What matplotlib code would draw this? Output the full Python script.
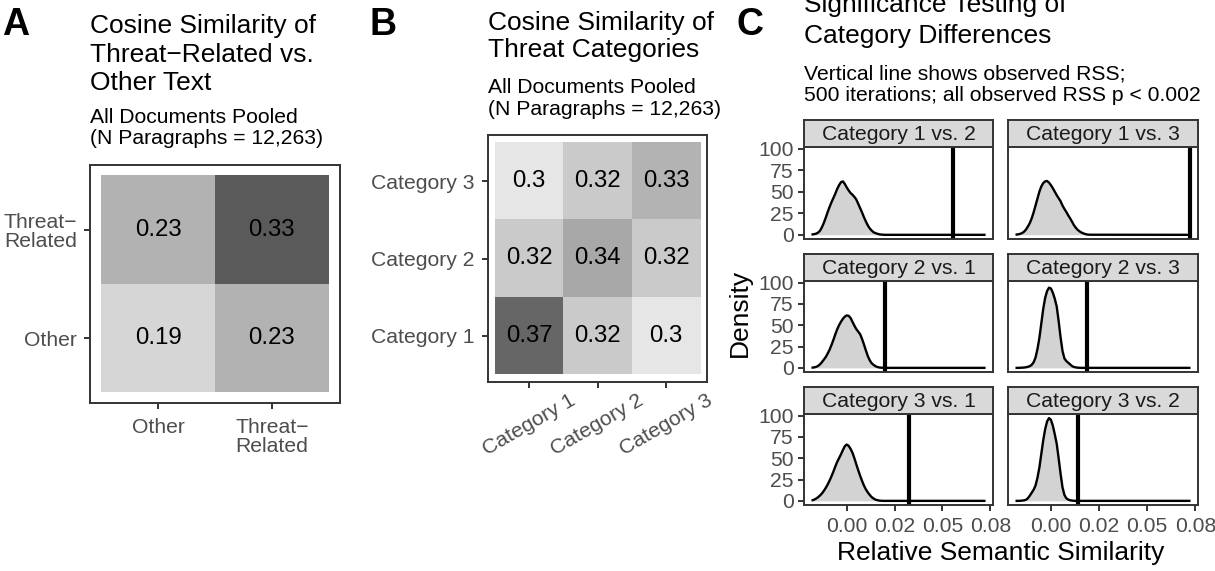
import numpy as np
import matplotlib.pyplot as plt
from matplotlib.colors import LinearSegmentedColormap, Normalize

plt.rcParams['font.family'] = ['Liberation Sans', 'DejaVu Sans']

# ---- data ----
# panel A: threat-related vs other text
a_labels = ["Other", "Threat\u2212\nRelated"]
a_values = [[0.19, 0.23],   # row Other
            [0.23, 0.33]]   # row Threat-Related

# panel B: threat categories
b_labels = ["Category 1", "Category 2", "Category 3"]
b_values = [[0.37, 0.32, 0.30],   # row Category 1
            [0.32, 0.34, 0.32],   # row Category 2
            [0.30, 0.32, 0.33]]   # row Category 3

# panel C: permutation densities
facet_titles = ["Category 1 vs. 2", "Category 1 vs. 3",
                "Category 2 vs. 1", "Category 2 vs. 3",
                "Category 3 vs. 1", "Category 3 vs. 2"]
observed_rss = [0.0557, 0.0720, 0.0201, 0.0187, 0.0323, 0.0140]

dens_x = [-0.0178, -0.017, -0.016, -0.015, -0.014, -0.013, -0.012, -0.011,
          -0.010, -0.009, -0.008, -0.007, -0.006, -0.005, -0.004, -0.003,
          -0.002, -0.001, 0.000, 0.001, 0.002, 0.003, 0.004, 0.005, 0.006,
          0.007, 0.008, 0.009, 0.010, 0.011, 0.012, 0.013, 0.014, 0.015,
          0.016, 0.017, 0.018, 0.019, 0.020, 0.0719]

dens_1v2 = [0.5, 0.8, 1.3, 2.5, 4.5, 8.5, 13.5, 19.5, 26, 32, 37.5, 42.5,
            47.5, 53, 57.5, 61, 62, 59, 55, 51.5, 48.5, 46.5, 44, 41, 36, 31,
            26, 20.5, 15.5, 11, 7.5, 5, 3, 2, 1.2, 0.6, 0.3, 0.1, 0, 0]
dens_1v3 = [0.3, 0.6, 1.1, 2, 3.5, 6, 9.5, 13.5, 19, 26, 34, 42, 50, 56, 60,
            62, 62.4, 60.5, 57.5, 54, 50, 46, 42.5, 39, 34, 30, 26.5, 22.5,
            19, 15, 11, 8, 5.5, 3.8, 2.5, 1.5, 0.8, 0.3, 0.1, 0]
dens_2v1 = [0.3, 0.6, 1.1, 2.2, 4, 6.5, 9.5, 12.5, 16.5, 21, 26.5, 32.5, 39,
            45, 50, 54, 57.5, 60, 61.5, 61, 58.5, 54, 49.5, 45.5, 42.5, 39.5,
            34, 27.5, 20.5, 14, 9, 5.5, 3.5, 2, 1, 0.5, 0.2, 0.1, 0, 0]
dens_2v3 = [0, 0, 0.1, 0.2, 0.4, 0.7, 1.2, 2, 3.5, 6.5, 12, 22, 35, 52, 69,
            82, 90, 94, 93, 88, 81, 72, 55, 36, 20, 11, 8, 6, 4, 2, 1, 0.5,
            0.2, 0.1, 0, 0, 0, 0, 0, 0]
dens_3v1 = [0.8, 1.4, 2.6, 4.2, 6.2, 8.5, 11.5, 15, 19, 23.5, 28.5, 34, 40,
            45.5, 50, 54.5, 59.5, 64, 66, 64.5, 61, 56.5, 50, 43, 36, 29.5,
            23.5, 18, 13.5, 10, 7, 4.5, 2.8, 1.5, 0.8, 0.3, 0.1, 0, 0, 0]
dens_3v2 = [0, 0, 0.1, 0.3, 0.6, 1.2, 3, 6, 9.5, 13, 18, 27, 39, 55, 71, 84,
            93, 97, 95, 88, 78, 67, 50, 32, 16, 7, 3, 1.5, 0.7, 0.3, 0.1, 0,
            0, 0, 0, 0, 0, 0, 0, 0]
densities = [dens_1v2, dens_1v3, dens_2v1, dens_2v3, dens_3v1, dens_3v2]

c_xticks = [0, 0.025, 0.05, 0.075]
c_xticklabels = ["0.00", "0.02", "0.05", "0.08"]
c_yticks = [0, 25, 50, 75, 100]

# ---- figure helpers (pixel layout) ----
W, H = 1215, 571
fig = plt.figure(figsize=(W / 100, H / 100), dpi=100)

def px_axes(x0, y0, x1, y1):
    return fig.add_axes([x0 / W, 1 - y1 / H, (x1 - x0) / W, (y1 - y0) / H])

def px_lines(x, baselines, lines, **kw):
    for yb, s in zip(baselines, lines):
        fig.text(x / W, 1 - yb / H, s, ha='left', va='baseline', **kw)

DARK = '#333333'
TICKTXT = '#4d4d4d'

def style_frame(ax):
    for sp in ax.spines.values():
        sp.set_color(DARK)
        sp.set_linewidth(1.4)
    ax.tick_params(direction='out', length=4.5, width=1.4, color=DARK,
                   labelcolor=TICKTXT, labelsize=15.2)

def heatmap(ax, values, labels, cmap, vmin, vmax):
    vals = np.array(values)
    n = len(labels)
    ax.imshow(vals, cmap=cmap, norm=Normalize(vmin, vmax), origin='lower',
              extent=(-0.5, n - 0.5, -0.5, n - 0.5), aspect='auto',
              interpolation='nearest')
    for i in range(n):
        for j in range(n):
            ax.text(j, i, f"{vals[i, j]:g}", ha='center', va='center',
                    fontsize=17.3, color='black')
    ax.set_xlim(-0.6, n - 0.4)
    ax.set_ylim(-0.6, n - 0.4)
    ax.set_xticks(range(n))
    ax.set_yticks(range(n))
    style_frame(ax)

# ---- panel A ----
cmap_a = LinearSegmentedColormap.from_list(
    'a', [(0, '#d6d6d6'), (4 / 14, '#b3b3b3'), (1, '#5a5a5a')])
axA = px_axes(90, 165, 340, 403)
heatmap(axA, a_values, a_labels, cmap_a, 0.19, 0.33)
axA.set_xticklabels(a_labels, linespacing=1.0)
axA.set_yticklabels(a_labels, linespacing=1.0)
axA.tick_params(axis='x', pad=6)
axA.tick_params(axis='y', pad=5)

fig.text(2 / W, 1 - 35 / H, "A", fontsize=27, fontweight='bold')
px_lines(90, [33, 61.5, 90], ["Cosine Similarity of", "Threat\u2212Related vs.",
                              "Other Text"], fontsize=19)
px_lines(90, [123, 144], ["All Documents Pooled", "(N Paragraphs = 12,263)"],
         fontsize=15.2)

# ---- panel B ----
cmap_b = LinearSegmentedColormap.from_list(
    'b', [(0, '#e6e6e6'), (2 / 7, '#cbcbcb'), (3 / 7, '#b3b3b3'),
          (4 / 7, '#a9a9a9'), (1, '#666666')])
axB = px_axes(488, 135, 707, 382)
heatmap(axB, b_values, b_labels, cmap_b, 0.30, 0.37)
axB.set_xticklabels(b_labels, rotation=30, ha='center', va='top')
axB.set_yticklabels(b_labels)
axB.tick_params(axis='x', pad=2)
axB.tick_params(axis='y', pad=5)

fig.text(369 / W, 1 - 35 / H, "B", fontsize=27, fontweight='bold')
px_lines(488, [30, 57.5], ["Cosine Similarity of", "Threat Categories"],
         fontsize=19)
px_lines(488, [93, 115], ["All Documents Pooled", "(N Paragraphs = 12,263)"],
         fontsize=15.2)

# ---- panel C ----
fig.text(736 / W, 1 - 35 / H, "C", fontsize=27, fontweight='bold')
px_lines(804, [12, 43], ["Significance Testing of", "Category Differences"],
         fontsize=19)
px_lines(804, [80, 101], ["Vertical line shows observed RSS;",
                          "500 iterations; all observed RSS p < 0.002"],
         fontsize=15.2)

cols = [(804, 993), (1008, 1198)]
rows = [(120, 147, 239), (254, 281, 372), (387, 414, 505)]

for k, (title, dens, obs) in enumerate(zip(facet_titles, densities, observed_rss)):
    r, c = divmod(k, 2)
    x0, x1 = cols[c]
    s0, p0, p1 = rows[r]
    ax = px_axes(x0, p0, x1, p1)
    ax.fill_between(dens_x, 0, dens, color='#d3d3d3', lw=0)
    ax.plot(dens_x, dens, color='black', lw=1.7, solid_joinstyle='round')
    ax.axvline(obs, color='black', lw=3)
    ax.set_xlim(-0.0223, 0.0764)
    ax.set_ylim(-4.85, 101.8)
    style_frame(ax)
    ax.set_xticks(c_xticks)
    ax.set_yticks(c_yticks)
    if r == 2:
        ax.set_xticklabels(c_xticklabels)
        ax.tick_params(axis='x', pad=4)
    else:
        ax.tick_params(axis='x', length=0, labelbottom=False)
    if c == 0:
        ax.tick_params(axis='y', pad=3)
    else:
        ax.tick_params(axis='y', length=0, labelleft=False)

    sax = px_axes(x0, s0, x1, p0)
    sax.set_facecolor('#d9d9d9')
    sax.set_xticks([])
    sax.set_yticks([])
    for sp in sax.spines.values():
        sp.set_color(DARK)
        sp.set_linewidth(1.4)
    sax.text(0.5, 0.45, title, transform=sax.transAxes, ha='center',
             va='center', fontsize=15.2, color='#1a1a1a')

fig.text(1001 / W, 1 - 560 / H, "Relative Semantic Similarity", ha='center',
         va='baseline', fontsize=19)
fig.text(740 / W, 1 - 313 / H, "Density", ha='center', va='center',
         rotation=90, fontsize=19)

fig.savefig('out.png', dpi=100)
